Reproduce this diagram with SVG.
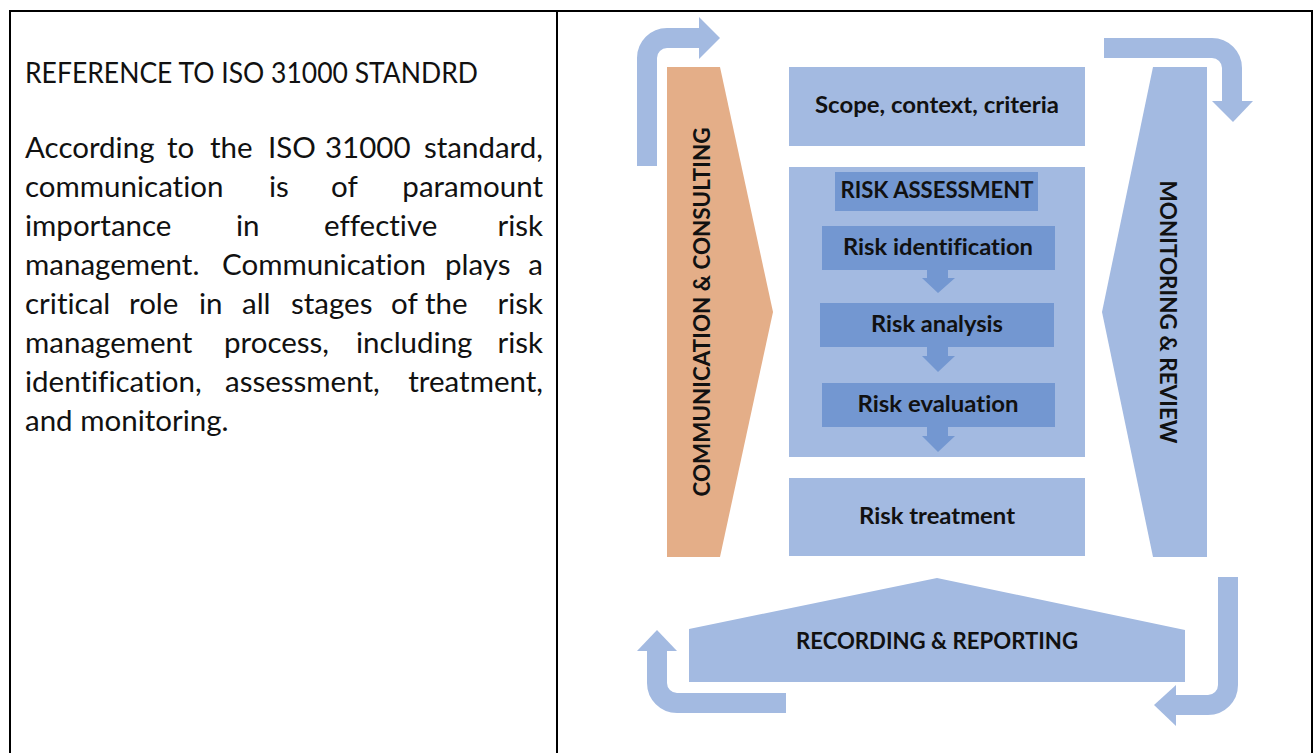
<svg xmlns="http://www.w3.org/2000/svg" width="1316" height="753" viewBox="0 0 1316 753">
<style>
.body{font-family:Lato,"Open Sans","Liberation Sans",sans-serif;font-size:29.5px;fill:#111;font-variant-ligatures:none}
.lbl{font-family:Lato,"Open Sans","Liberation Sans",sans-serif;font-size:22px;font-weight:bold;fill:#111;text-anchor:middle;font-variant-ligatures:none}
.lt{fill:#A3BAE1}
.dk{fill:#7397D1}
.or{fill:#E4AE88}
.shaft{fill:none;stroke:#A3BAE1;stroke-width:20}
.frame{stroke:#000;stroke-width:2;fill:none}
</style>
<rect width="1316" height="753" fill="#fff"/>
<g id="frame">
<path class="frame" d="M9,11 H1313 M10,11 V753 M557,11 V753 M1312,11 V753"/>
</g>
<g id="left-text">
<text class="body" x="25" y="83" textLength="453" lengthAdjust="spacingAndGlyphs">REFERENCE TO ISO 31000 STANDRD</text>
<text class="body" y="158"><tspan x="25">According</tspan><tspan x="167">to</tspan><tspan x="210">the</tspan><tspan x="268">ISO</tspan><tspan x="325">31000</tspan></text>
<text class="body" y="158" x="543" text-anchor="end">standard,</text>
<text class="body" y="197"><tspan x="25">communication</tspan><tspan x="269">is</tspan><tspan x="331">of</tspan></text>
<text class="body" y="197" x="543" text-anchor="end">paramount</text>
<text class="body" y="236"><tspan x="25">importance</tspan><tspan x="236">in</tspan><tspan x="324">effective</tspan></text>
<text class="body" y="236" x="543" text-anchor="end">risk</text>
<text class="body" y="275"><tspan x="25">management.</tspan><tspan x="222">Communication</tspan><tspan x="445">plays</tspan></text>
<text class="body" y="275" x="543" text-anchor="end">a</text>
<text class="body" y="314"><tspan x="25">critical</tspan><tspan x="129">role</tspan><tspan x="199">in</tspan><tspan x="242">all</tspan><tspan x="291">stages</tspan><tspan x="391">of</tspan><tspan x="425">the</tspan></text>
<text class="body" y="314" x="543" text-anchor="end">risk</text>
<text class="body" y="353"><tspan x="25">management</tspan><tspan x="224">process,</tspan><tspan x="356">including</tspan></text>
<text class="body" y="353" x="543" text-anchor="end">risk</text>
<text class="body" y="392"><tspan x="25">identification,</tspan><tspan x="225">assessment,</tspan></text>
<text class="body" y="392" x="543" text-anchor="end">treatment,</text>
<text class="body" x="25" y="431">and monitoring.</text>
</g>
<g id="communication-consulting">
<polygon class="or" points="667,67 720,67 773,312 720,557 667,557"/>
<text class="lbl" transform="translate(710,312) rotate(-90)" textLength="369" lengthAdjust="spacingAndGlyphs">COMMUNICATION &amp; CONSULTING</text>
</g>
<g id="monitoring-review">
<polygon class="lt" points="1153,67 1207,67 1207,557 1153,557 1102,312"/>
<text class="lbl" transform="translate(1160,312) rotate(90)" textLength="263" lengthAdjust="spacingAndGlyphs">MONITORING &amp; REVIEW</text>
</g>
<g id="scope">
<rect class="lt" x="789" y="67" width="296" height="79"/>
<text class="lbl" x="937" y="113" textLength="244" lengthAdjust="spacingAndGlyphs">Scope, context, criteria</text>
</g>
<g id="risk-assessment">
<rect class="lt" x="789" y="167" width="296" height="290"/>
<rect class="dk" x="835" y="172" width="203" height="39"/>
<text class="lbl" x="937" y="198" textLength="193" lengthAdjust="spacingAndGlyphs">RISK ASSESSMENT</text>
</g>
<g id="risk-identification">
<rect class="dk" x="822" y="226" width="233" height="44"/>
<text class="lbl" x="938" y="255" textLength="190" lengthAdjust="spacingAndGlyphs">Risk identification</text>
</g>
<g id="risk-analysis">
<rect class="dk" x="820" y="303" width="234" height="44"/>
<text class="lbl" x="937" y="332" textLength="132" lengthAdjust="spacingAndGlyphs">Risk analysis</text>
</g>
<g id="risk-evaluation">
<rect class="dk" x="822" y="383" width="233" height="44"/>
<text class="lbl" x="938" y="412" textLength="161" lengthAdjust="spacingAndGlyphs">Risk evaluation</text>
</g>
<g id="risk-treatment">
<rect class="lt" x="789" y="478" width="296" height="78"/>
<text class="lbl" x="937" y="524" textLength="156" lengthAdjust="spacingAndGlyphs">Risk treatment</text>
</g>
<g id="recording-reporting">
<polygon class="lt" points="689,629 937,578 1185,630 1185,682 689,682"/>
<text class="lbl" x="937" y="649" textLength="282" lengthAdjust="spacingAndGlyphs">RECORDING &amp; REPORTING</text>
</g>
<g id="connectors">
<polygon class="dk" points="927,270 948,270 948,278 955,278 938,293 922,278 927,278"/>
<polygon class="dk" points="927,347 948,347 948,356 955,356 938,372 922,356 927,356"/>
<polygon class="dk" points="927,427 948,427 948,436 955,436 938,452 922,436 927,436"/>
<path class="shaft" d="M647,166 V58 A20,20 0 0 1 667,38 H700"/>
<polygon class="lt" points="699,17 720,38 699,59"/>
<path class="shaft" d="M1104,48 H1212 A20,20 0 0 1 1232,68 V102"/>
<polygon class="lt" points="1212,101 1253,101 1233,122"/>
<path class="shaft" d="M786,703 H677 A20,20 0 0 1 657,683 V650"/>
<polygon class="lt" points="637,651 677,651 657,630"/>
<path class="shaft" d="M1228,577 V685 A20,20 0 0 1 1208,705 H1175"/>
<polygon class="lt" points="1176,685 1154,705 1176,726"/>
</g>
</svg>
